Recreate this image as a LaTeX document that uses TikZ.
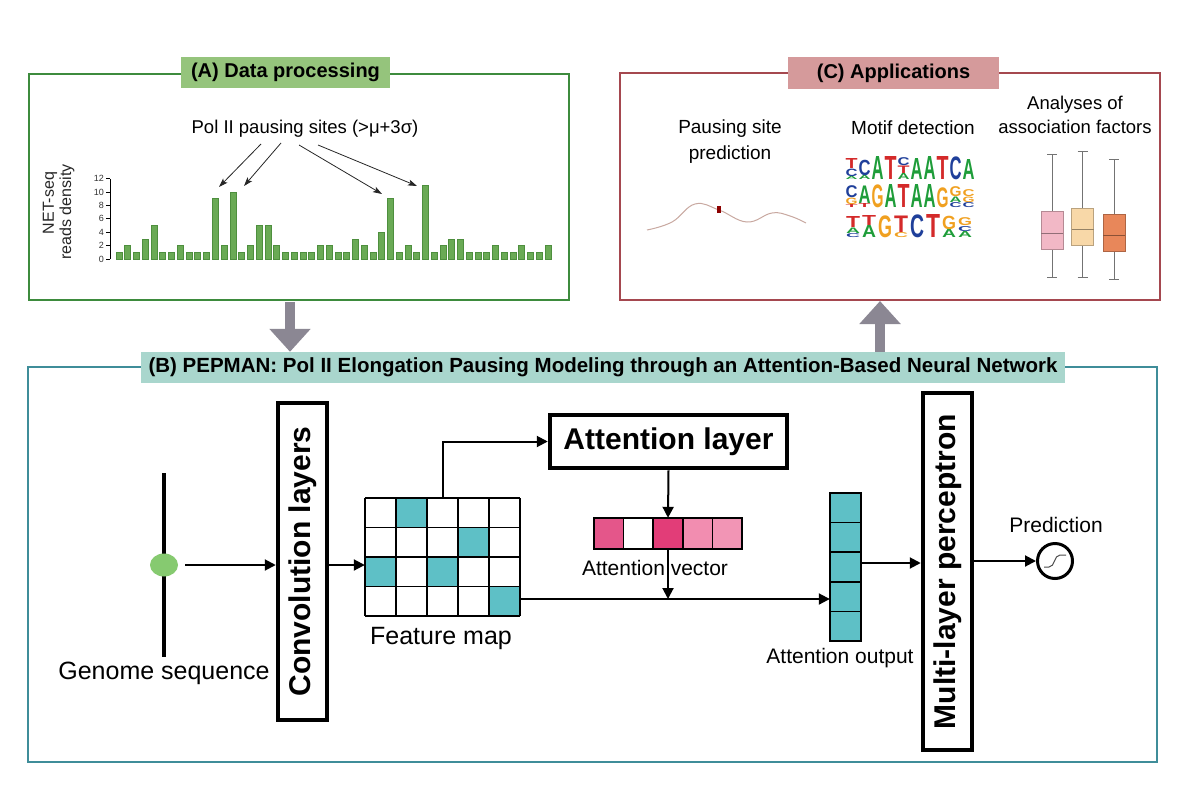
\documentclass[tikz,border=0pt]{standalone}
\usepackage{fontspec}
\setmainfont{Liberation Sans}
\usetikzlibrary{arrows.meta,calc,shapes.geometric}
\newcommand\fsz[1]{\fontsize{#1}{#1}\selectfont}
\definecolor{agreen}{HTML}{3D8B3D}
\definecolor{afill}{HTML}{95C47C}
\definecolor{cred}{HTML}{A5484F}
\definecolor{cfill}{HTML}{D59A9B}
\definecolor{bteal}{HTML}{3F8D99}
\definecolor{bfill}{HTML}{A9D6CD}
\definecolor{teal}{HTML}{5EC0C6}
\definecolor{bigg}{HTML}{8B8793}
\definecolor{barf}{HTML}{6AAA55}
\definecolor{bard}{HTML}{4E8F3E}
\definecolor{pk1}{HTML}{E4568A}
\definecolor{pk3}{HTML}{E23D78}
\definecolor{pk4}{HTML}{F28DB0}
\definecolor{pk5}{HTML}{F295B5}
\definecolor{lA}{HTML}{1F9D3A}
\definecolor{lC}{HTML}{1F3F9A}
\definecolor{lG}{HTML}{F0A020}
\definecolor{lT}{HTML}{D42A2A}
\definecolor{bp1}{HTML}{F2B8C6}
\definecolor{bp2}{HTML}{F8D8A8}
\definecolor{bp3}{HTML}{E8875A}
\definecolor{wave}{HTML}{C8A8A0}
\newcommand\LG[5]{\node[inner sep=0,anchor=south,text=#5] at (#1,#2) {\resizebox*{12pt}{#3pt}{\bfseries #4}};}
\newcommand\LGw[5]{\node[inner sep=0,anchor=south,text=#5] at (#1,#2) {\resizebox*{14pt}{#3pt}{\bfseries #4}};}
\begin{document}
\begin{tikzpicture}[x=1pt,y=-1pt,
  panel/.style={draw, line width=2pt, inner sep=0},
  ttl/.style={inner sep=0, font=\bfseries\fsz{20}},
  blk/.style={draw=black, line width=4.5pt, inner sep=0},
  arr/.style={line width=2pt, -{Triangle[length=11pt,width=11pt]}},
  thinarr/.style={line width=0.8pt, draw=black!85, -{Stealth[length=9pt,width=6pt,inset=2pt]}},
  lbl/.style={inner sep=0, font=\fsz{21}},
  bigarr/.style={line width=10pt, draw=bigg, -{Triangle[length=23pt,width=40pt]}},
  gridl/.style={line width=1.5pt, draw=black},
  cell/.style={draw=black, line width=1.5pt}
]
\useasboundingbox (0,0) rectangle (1185,800);

% ---------- panels ----------
\node[panel, draw=agreen, minimum width=540pt, minimum height=226pt] (boxA) at (299,187) {};
\node[panel, draw=cred, minimum width=540pt, minimum height=227pt] (boxC) at (890,186.5) {};
\node[panel, draw=bteal, minimum width=1129pt, minimum height=395pt] (boxB) at (592.5,564.5) {};

\node[ttl, fill=afill, minimum width=209pt, minimum height=31pt] (tA) at (285.5,72.5) {(A) Data processing};
\node[ttl, fill=cfill, minimum width=211pt, minimum height=32pt] (tC) at (893.5,73) {(C) Applications};
\node[ttl, fill=bfill, minimum width=924pt, minimum height=31pt, font=\bfseries\fsz{20.5}] (tB) at (603,367.5) {(B) PEPMAN: Pol II Elongation Pausing Modeling through an Attention-Based Neural Network};

% ---------- big gray arrows ----------
\draw[bigarr] (tB.north -| 290,0) ++(0,-50) coordinate (gA) -- (gA |- tB.north);
\draw[bigarr] (tB.north -| 880,0) coordinate (gC) -- (gC |- boxC.south);

% ---------- panel A ----------
\node[inner sep=0, font=\fsz{18.5}] (pol) at (305,129) {Pol II pausing sites (>μ+3σ)};
\foreach \v [count=\i] in {1,2,1,3,5,1,1,2,1,1,1,9,2,10,1,2,5,5,2,1,1,1,1,2,2,1,1,3,2,1,4,9,1,2,1,11,1,2,3,3,1,1,1,2,1,1,2,1,1,2}{
  \pgfmathsetmacro\bx{119+(\i-1)*8.755}
  \draw[fill=barf, draw=bard, line width=0.6pt] ({\bx-3},259) rectangle ({\bx+3},{259-\v*6.7});
}
\draw[line width=0.8pt] (110,259) -- (110,178.6);
\foreach \t in {0,2,4,6,8,10,12}{
  \draw[line width=0.8pt] (110,{259-\t*6.7}) -- (106,{259-\t*6.7});
  \node[inner sep=0, anchor=east, font=\fsz{9}, text=black!80] at (104,{259-\t*6.7}) {\t};
}
\node[inner sep=0, rotate=90, font=\fsz{16}, text=black!85] (yl1) at (50,203) {NET-seq};
\node[inner sep=0, rotate=90, font=\fsz{16}, text=black!85] (yl2) at (67,212) {reads density};
\coordinate (s1) at (261,144); \coordinate (t1) at (219,187);
\coordinate (s2) at (281,143); \coordinate (t2) at (244,186);
\coordinate (s3) at (299,145); \coordinate (t3) at (382,194);
\coordinate (s4) at (318,145); \coordinate (t4) at (417,186);
\foreach \k in {1,2,3,4} \draw[thinarr] (s\k) -- (t\k);

% ---------- panel C ----------
\node[inner sep=0, align=center, font=\fontsize{19}{26}\selectfont] (psp) at (730,142) {Pausing site\\prediction};
\draw[wave, line width=1pt] plot[smooth, tension=0.7] coordinates {(647,230) (672,222) (695,204) (719,210) (747,222) (772,213) (790,216) (806,223)};
\fill[red!55!black] (717,206) rectangle (721,213);
\node[inner sep=0, font=\fsz{19}] (motif) at (913,128) {Motif detection};
\node[inner sep=0, align=center, font=\fontsize{18.5}{24}\selectfont] (assoc) at (1075,115) {Analyses of\\association factors};

% logos row 1 (base 180)
\LG{851.5}{180}{3}{A}{lA} \LG{851.5}{176.5}{7.5}{C}{lC} \LG{851.5}{168.5}{10}{T}{lT}
\LG{864.5}{180}{4}{A}{lA} \LG{864.5}{175.5}{15.5}{C}{lC}
\LG{877.5}{180}{23}{A}{lA}
\LG{890.5}{180}{23}{T}{lT}
\LG{903.5}{180}{6}{A}{lA} \LG{903.5}{173.5}{7.5}{T}{lT} \LG{903.5}{165.5}{8}{C}{lC}
\LG{916.5}{180}{21}{A}{lA}
\LG{929.5}{180}{23}{A}{lA}
\LG{942.5}{180}{23}{T}{lT}
\LG{955.5}{180}{23}{C}{lC}
\LG{968.5}{180}{20}{A}{lA}
% row 2 (base 208)
\LG{851.5}{208}{3}{T}{lT} \LG{851.5}{204.5}{6.5}{G}{lG} \LG{851.5}{197.5}{12}{C}{lC}
\LG{864.5}{208}{4}{T}{lT} \LG{864.5}{203.5}{17.5}{A}{lA}
\LG{877.5}{208}{23}{G}{lG}
\LG{890.5}{208}{23}{A}{lA}
\LG{903.5}{208}{23}{T}{lT}
\LG{916.5}{208}{23}{A}{lA}
\LG{929.5}{208}{23}{A}{lA}
\LG{942.5}{208}{20}{G}{lG}
\LG{955.5}{208}{5}{C}{lC} \LG{955.5}{202.5}{5.5}{A}{lA} \LG{955.5}{196.5}{10}{G}{lG}
\LG{968.5}{208}{5}{C}{lC} \LG{968.5}{202.5}{5.5}{G}{lG} \LG{968.5}{196.5}{7}{C}{lG}
% row 3 (base 238)
\LGw{853}{238}{4}{C}{lC} \LGw{853}{233.5}{5.5}{A}{lA} \LGw{853}{227.5}{11}{T}{lT}
\LGw{869}{238}{12}{A}{lA} \LGw{869}{225.5}{10}{T}{lT}
\LGw{885}{238}{22}{G}{lG}
\LGw{901}{238}{5}{C}{lG} \LGw{901}{232.5}{16.5}{T}{lT}
\LGw{917}{238}{23}{C}{lC}
\LGw{933}{238}{23}{T}{lT}
\LGw{949}{238}{8}{A}{lA} \LGw{949}{229.5}{13.5}{G}{lG}
\LGw{965}{238}{6}{A}{lA} \LGw{965}{231.5}{5}{C}{lC} \LGw{965}{226}{8}{G}{lG}

% boxplots
\foreach \cx/\wt/\bt/\md/\bb/\wb/\col in {1052/154/211/233/249/277/bp1, 1082.5/151/208/229/245/277/bp2, 1114/159/214/235/251/279/bp3}{
  \draw[black!55, line width=0.8pt] (\cx,\wt) -- (\cx,\bt) (\cx,\bb) -- (\cx,\wb);
  \draw[black!55, line width=0.8pt] ({\cx-5},\wt) -- ({\cx+5},\wt) ({\cx-5},\wb) -- ({\cx+5},\wb);
  \draw[fill=\col, draw=\col!75!black, line width=0.8pt] ({\cx-11},\bt) rectangle ({\cx+11},\bb);
  \draw[\col!60!black, line width=0.8pt] ({\cx-11},\md) -- ({\cx+11},\md);
}

% ---------- panel B ----------
\draw[line width=4pt] (164,473) coordinate (gtop) -- (164,657) coordinate (gbot);
\node[ellipse, fill=afill!90!green, minimum width=28pt, minimum height=23pt, inner sep=0] (gdot) at (164,565) {};
\node[inner sep=0, font=\fsz{25}, fill=white] (glbl) at (164,673) {Genome sequence};

\node[blk, minimum width=49pt, minimum height=317pt] (conv) at (302.5,561.5) {\rotatebox{90}{\bfseries\fsz{30}Convolution layers}};
\draw[arr] ([xshift=7pt]gdot.east) -- (gdot -| conv.west);

% feature map
\node[inner sep=0, minimum width=155pt, minimum height=118pt] (fmap) at (442.5,557) {};
\fill[teal] (396,498) rectangle (427,527.5);
\fill[teal] (458,527.5) rectangle (489,557);
\fill[teal] (365,557) rectangle (396,586.5);
\fill[teal] (427,557) rectangle (458,586.5);
\fill[teal] (489,586.5) rectangle (520,616);
\foreach \i in {0,...,5} \draw[gridl] ({365+31*\i},498) -- ({365+31*\i},616);
\foreach \j in {0,...,4} \draw[gridl] (365,{498+29.5*\j}) -- (520,{498+29.5*\j});
\draw[arr] (conv.east |- gdot) -- (gdot -| fmap.west);
\node[inner sep=0, font=\fsz{25}] (fmlbl) at (441,638) {Feature map};
\coordinate (fm4) at (520,599);

% attention layer
\node[blk, minimum width=237pt, minimum height=53pt, font=\bfseries\fsz{30}] (att) at (668.5,441.5) {Attention layer};
\draw[arr] (fmap.north) |- (att.west);

% attention vector
\node[inner sep=0, minimum width=148pt, minimum height=31pt] (vec) at (668,533.5) {};
\foreach \c [count=\i] in {pk1,white,pk3,pk4,pk5}
  \draw[cell, fill=\c] ({594+29.6*(\i-1)},518) rectangle ({594+29.6*\i},549);
\draw[arr] (att.south) -- (vec.north);
\node[lbl] (veclbl) at (655,568) {Attention vector};
\draw[arr] (vec.south) -- (vec.south |- fm4);

% attention output
\node[inner sep=0, minimum width=31pt, minimum height=148pt] (out) at (845.5,567) {};
\foreach \j in {0,...,4}
  \draw[cell, fill=teal] (830,{493+29.6*\j}) rectangle (861,{493+29.6*(\j+1)});
\draw[arr] (fm4) -- (fm4 -| out.west);
\node[lbl] (outlbl) at (840,658) {Attention output};

% MLP
\node[blk, minimum width=49pt, minimum height=357pt] (mlp) at (947.5,571.5) {\rotatebox{90}{\bfseries\fsz{30}Multi-layer perceptron}};
\draw[arr] (out.east |- 0,563) -- (mlp.west |- 0,563);

% prediction
\node[circle, draw=black, line width=3pt, minimum size=35pt, inner sep=0] (pred) at (1055,561) {};
\draw[arr] (mlp.east |- pred) -- (pred.west);
\draw[black!70, line width=1pt] (1044,567) -- (1049,567) .. controls (1055,567) and (1054,555) .. (1060,555) -- (1066,555);
\node[lbl] (predlbl) at (1056,525) {Prediction};
\end{tikzpicture}
\end{document}
